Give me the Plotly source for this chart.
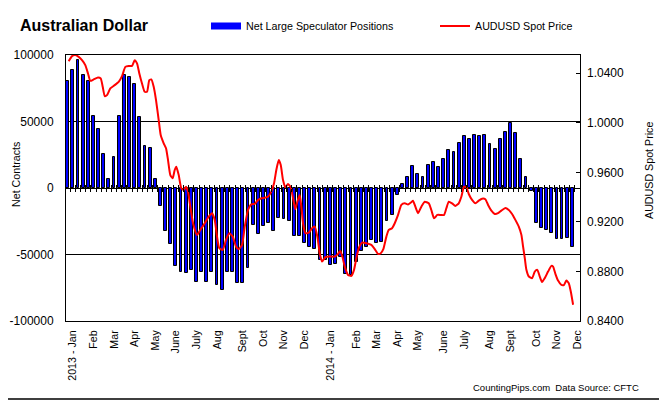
import plotly.graph_objects as go

# ---------------- data ----------------
# weekly net large speculator positions (contracts), Jan 2013 - Dec 2014
net_positions = [
    80100, 88800, 96300, 85300, 80100, 54000, 44300, 25600, 7000, 23400,
    54000, 85300, 83800, 78100, 53200, 31600, 30100, 7000, -13700, -32300,
    -42000, -58500, -62900, -63700, -61500, -70400, -62900, -70400, -62900, -72600,
    -76400, -62900, -62900, -71200, -71200, -60000, -27900, -34600, -28600, -26400,
    -32300, -22600, -23400, -24900, -36100, -36100, -41000, -44300, -45800, -54000,
    -54000, -57700, -57000, -52000, -64400, -65200, -55500, -47300, -44300, -39100,
    -41300, -40600, -24900, -20400, -5200, 3000, 8500, 16500, 10600, 8400,
    17300, 19600, 15900, 21800, 28500, 27000, 33700, 39000, 36700, 39500,
    39000, 39600, 33000, 29300, 36700, 41900, 48700, 41200, 21800, 8400,
    -2200, -26300, -30000, -31500, -33700, -38200, -38200, -37500, -44200,
]
weeks = list(range(len(net_positions)))

# AUDUSD spot price (position in weeks since first report, price)
line_week = [
    0.19, 0.84, 1.48, 2.14, 2.78, 3.42, 3.94, 4.39, 5.05, 5.88, 6.41, 6.80, 7.19, 7.63,
    8.27, 9.13, 9.90, 10.55, 11.19, 11.85, 12.49, 13.01, 13.46, 13.91, 14.43, 14.95,
    15.40, 15.85, 16.24, 16.70, 17.15, 17.67, 18.06, 18.64, 19.09, 19.48, 19.93, 20.39,
    20.78, 21.09, 21.56, 22.06, 22.53, 22.98, 23.36, 23.81, 24.34, 25.11, 25.75, 26.61,
    27.38, 28.02, 28.55, 29.00, 29.44, 30.10, 30.74, 31.38, 32.05, 32.69, 33.21, 33.85,
    34.38, 35.02, 35.66, 36.32, 36.96, 37.60, 38.26, 38.90, 39.54, 40.07, 40.51, 40.98,
    41.37, 41.81, 42.26, 42.78, 43.31, 43.76, 44.20, 44.59, 45.06, 45.37, 45.70, 46.15,
    46.81, 47.45, 47.97, 48.48, 48.94, 49.39, 50.03, 50.88, 51.85, 52.50, 52.94, 53.33,
    53.80, 54.44, 55.08, 55.60, 56.05, 56.52, 57.16, 57.99, 58.96, 59.62, 60.26, 60.79,
    61.29, 61.88, 62.34, 62.98, 63.51, 64.15, 64.79, 65.45, 66.09, 66.73, 67.06, 67.51,
    68.03, 68.67, 69.33, 70.11, 70.61, 71.14, 71.78, 72.44, 73.08, 73.53, 74.00, 74.64,
    75.28, 75.94, 76.44, 76.97, 77.42, 77.88, 78.52, 79.16, 79.82, 80.46, 81.10, 81.63,
    82.27, 82.93, 83.57, 84.21, 84.99, 85.65, 86.29, 86.93, 87.59, 88.10, 88.43, 88.76,
    89.07, 89.54, 90.18, 90.70, 91.20, 91.67, 92.11, 92.64, 93.28, 93.92, 94.25, 94.70,
    95.22, 95.86, 96.39, 96.83, 97.30, 97.69, 98.14,
]
line_price = [
    1.0497, 1.0538, 1.0546, 1.0532, 1.0505, 1.0465, 1.0398, 1.0338, 1.0350, 1.0366, 1.0358, 1.0290, 1.0215, 1.0223,
    1.0277, 1.0304, 1.0330, 1.0376, 1.0451, 1.0459, 1.0459, 1.0505, 1.0479, 1.0398, 1.0317, 1.0250,
    1.0250, 1.0344, 1.0350, 1.0290, 1.0183, 1.0022, 0.9901, 0.9834, 0.9794, 0.9699, 0.9578, 0.9552,
    0.9619, 0.9645, 0.9578, 0.9471, 0.9457, 0.9484, 0.9444, 0.9323, 0.9189, 0.9095, 0.9135, 0.9189,
    0.9242, 0.9270, 0.9216, 0.9081, 0.8988, 0.8974, 0.9054, 0.9108, 0.9081, 0.9000, 0.8980, 0.9014,
    0.9162, 0.9296, 0.9342, 0.9345, 0.9377, 0.9391, 0.9395, 0.9403, 0.9444, 0.9511, 0.9619, 0.9699,
    0.9659, 0.9538, 0.9479, 0.9506, 0.9479, 0.9391, 0.9302, 0.9363, 0.9417, 0.9323, 0.9189, 0.9108,
    0.9113, 0.9149, 0.9162, 0.9081, 0.8947, 0.8880, 0.8915, 0.8920, 0.8920, 0.8942, 0.8966, 0.8920,
    0.8839, 0.8772, 0.8764, 0.8813, 0.8907, 0.8988, 0.9033, 0.9028, 0.9014, 0.8980, 0.8942, 0.8947,
    0.8980, 0.9081, 0.9135, 0.9149, 0.9189, 0.9256, 0.9337, 0.9350, 0.9341, 0.9359, 0.9371, 0.9323,
    0.9270, 0.9323, 0.9363, 0.9350, 0.9296, 0.9229, 0.9256, 0.9256, 0.9256, 0.9310, 0.9363, 0.9350,
    0.9329, 0.9350, 0.9403, 0.9484, 0.9479, 0.9425, 0.9377, 0.9350, 0.9371, 0.9387, 0.9383, 0.9337,
    0.9291, 0.9264, 0.9270, 0.9291, 0.9312, 0.9296, 0.9264, 0.9216, 0.9162, 0.9095, 0.9000, 0.8907,
    0.8813, 0.8759, 0.8746, 0.8799, 0.8813, 0.8759, 0.8714, 0.8746, 0.8799, 0.8845, 0.8839, 0.8780,
    0.8726, 0.8692, 0.8692, 0.8726, 0.8705, 0.8638, 0.8531,
]

# x-axis month labels and the week at which each appears
month_labels = ["2013 - Jan", "Feb", "Mar", "Apr", "May", "June", "July", "Aug", "Sept",
                "Oct", "Nov", "Dec", "2014 - Jan", "Feb", "Mar", "Apr", "May", "June",
                "July", "Aug", "Sept", "Oct", "Nov", "Dec"]
month_weeks = [1, 5, 9, 13, 17, 21, 25, 29, 34, 38, 42, 46, 51, 56, 60, 64, 68, 73,
               77, 82, 86, 91, 95, 99]

left_ticks = [-100000, -50000, 0, 50000, 100000]
left_labels = ["-100000", "-50000", "0", "50000", "100000"]
right_ticks = [0.84, 0.88, 0.92, 0.96, 1.00, 1.04]
right_labels = ["0.8400", "0.8800", "0.9200", "0.9600", "1.0000", "1.0400"]

# ---------------- figure ----------------
FONT = "Liberation Sans, Arial, sans-serif"
OFF = 8                      # the page body adds an 8px margin; compensate
W, H = 667 - OFF, 403 - OFF
ML, MT = 66 - OFF, 55 - OFF
PW, PH = 514, 266
MR, MB = W - ML - PW, H - MT - PH
XR = [-0.33, 99.48]


def px_x(p):  # page pixel -> paper x
    return (p - OFF - ML) / PW


def px_y(p):  # page pixel -> paper y
    return (MT + PH - (p - OFF)) / PH


def cx(p):  # page pixel -> container x
    return (p - OFF) / W


def cy(p):  # page pixel -> container y
    return 1 - (p - OFF) / H


fig = go.Figure()
fig.add_trace(go.Bar(
    x=weeks, y=net_positions, name="Net Large Speculator Positions",
    marker=dict(color="#0000FF", line=dict(color="black", width=1)),
    width=0.55, showlegend=False, hoverinfo="y",
))
# legend key for the bars (wide blue swatch, as in the original)
fig.add_trace(go.Scatter(
    x=[None], y=[None], mode="lines", name="Net Large Speculator Positions",
    line=dict(color="#0000FF", width=7), legend="legend", hoverinfo="skip",
))
fig.add_trace(go.Scatter(
    x=line_week, y=line_price, yaxis="y2", mode="lines", name="AUDUSD Spot Price",
    line=dict(color="#FF0000", width=2, shape="spline", smoothing=0.5),
    legend="legend2",
))
# carriers for the tick marks crossing the zero line
fig.add_trace(go.Scatter(x=[None], y=[None], xaxis="x2", showlegend=False, hoverinfo="skip"))
fig.add_trace(go.Scatter(x=[None], y=[None], xaxis="x3", showlegend=False, hoverinfo="skip"))

bar_ticks = [w + 0.5 for w in weeks]

fig.update_layout(
    template="none",
    width=W, height=H,
    margin=dict(l=ML, r=MR, t=MT, b=MB, pad=0),
    paper_bgcolor="white", plot_bgcolor="white",
    font=dict(family=FONT, color="black", size=11),
    bargap=0,
    title=dict(text="<b>Australian Dollar</b>", font=dict(size=16, family=FONT, color="black"),
               xref="container", x=cx(20), xanchor="left",
               yref="container", y=cy(25), yanchor="middle"),
    xaxis=dict(range=XR, tickmode="array", tickvals=month_weeks, ticktext=month_labels,
               tickangle=-90, ticks="", showline=True, mirror=True, linecolor="black",
               linewidth=1, showgrid=False, zeroline=False, automargin=False,
               tickfont=dict(size=10.7), ticklabelstandoff=4),
    xaxis2=dict(overlaying="x", anchor="free", position=0.5, range=XR,
                tickmode="array", tickvals=bar_ticks, ticks="outside", ticklen=3,
                tickcolor="black", tickwidth=1, showticklabels=False, showline=False,
                showgrid=False, zeroline=False, automargin=False),
    xaxis3=dict(overlaying="x", anchor="free", position=0.5, range=XR,
                tickmode="array", tickvals=bar_ticks, ticks="inside", ticklen=3,
                tickcolor="black", tickwidth=1, showticklabels=False, showline=False,
                showgrid=False, zeroline=False, automargin=False),
    yaxis=dict(range=[-100000, 100000], tickmode="array", tickvals=left_ticks,
               ticktext=left_labels, showgrid=True, gridcolor="black", gridwidth=1,
               zeroline=True, zerolinecolor="black", zerolinewidth=1,
               showline=True, mirror=True, linecolor="black", linewidth=1,
               ticks="", automargin=False, tickfont=dict(size=12), ticklabelstandoff=9),
    yaxis2=dict(overlaying="y", side="right", range=[0.84, 1.0547], tickmode="array",
                tickvals=right_ticks, ticktext=right_labels, ticks="inside", ticklen=4,
                tickcolor="black", showgrid=False, zeroline=False, showline=False,
                automargin=False, tickfont=dict(size=12), ticklabelstandoff=6),
    legend=dict(orientation="h", xref="container", x=cx(206), xanchor="left",
                yref="container", y=cy(26), yanchor="middle",
                font=dict(size=10.7, family=FONT), bgcolor="rgba(0,0,0,0)",
                borderwidth=0, itemwidth=30),
    legend2=dict(orientation="h", xref="container", x=cx(435), xanchor="left",
                 yref="container", y=cy(26), yanchor="middle",
                 font=dict(size=10.7, family=FONT), bgcolor="rgba(0,0,0,0)",
                 borderwidth=0, itemwidth=30),
    showlegend=True,
    annotations=[
        dict(text="Net Contracts", textangle=-90, xref="paper", yref="paper",
             x=px_x(16), y=px_y(175), xanchor="center", yanchor="middle",
             showarrow=False, font=dict(size=10.7)),
        dict(text="AUDUSD Spot Price", textangle=-90, xref="paper", yref="paper",
             x=px_x(649), y=px_y(171), xanchor="center", yanchor="middle",
             showarrow=False, font=dict(size=10.7)),
        dict(text="CountingPips.com  Data Source: CFTC", xref="paper", yref="paper",
             x=px_x(641), y=px_y(387), xanchor="right", yanchor="middle",
             showarrow=False, font=dict(size=9.5)),
    ],
    shapes=[dict(type="rect", xref="paper", yref="paper",
                 x0=px_x(2.5), x1=px_x(664), y0=px_y(399), y1=px_y(3.5),
                 line=dict(color="black", width=1.5), fillcolor="rgba(0,0,0,0)",
                 layer="above")],
)

fig.write_html("out.html")
